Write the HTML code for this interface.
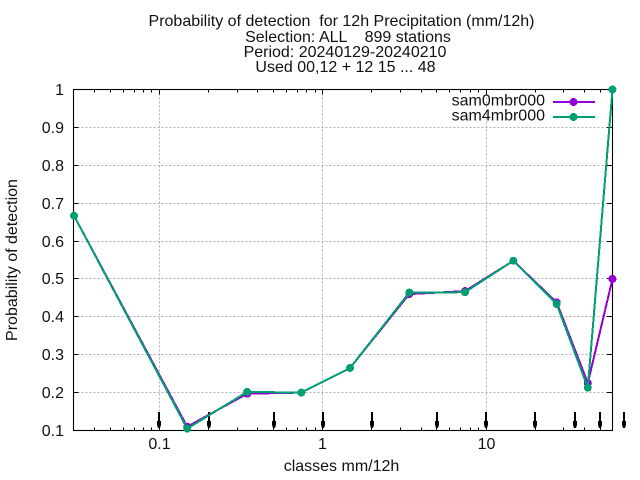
<!DOCTYPE html>
<html>
<head>
<meta charset="utf-8">
<title>Probability of detection</title>
<style>
html,body{margin:0;padding:0;background:#fff;width:640px;height:480px;overflow:hidden}
svg{display:block}
text{font-family:"Liberation Sans",sans-serif;font-size:16px;fill:#111;white-space:pre}
</style>
</head>
<body>
<svg id="chart" xmlns="http://www.w3.org/2000/svg" width="640" height="480" viewBox="0 0 640 480">
<g id="title" text-anchor="middle">
<text x="341.5" y="26">Probability of detection  for 12h Precipitation (mm/12h)</text>
<text x="348" y="42">Selection: ALL    899 stations</text>
<text x="345" y="57">Period: 20240129-20240210</text>
<text x="345.5" y="72">Used 00,12 + 12 15 ... 48</text>
</g>
<g id="grid"></g>
<g id="ticks"></g>
<g id="labels"></g>
<g id="arrows"></g>
<rect x="73.5" y="89.5" width="539" height="341" fill="none" stroke="#000" stroke-width="1.1"/>
<g id="series"></g>
<text text-anchor="middle" transform="translate(17,260) rotate(-90)">Probability of detection</text>
<text text-anchor="middle" x="341.5" y="471">classes mm/12h</text>
<g id="legend"></g>
</svg>
<script>
var classes = [0.03, 0.148, 0.345, 0.74, 1.47, 3.39, 7.44, 14.7, 27.1, 42, 59.5];
var sam0mbr000 = [0.667, 0.11, 0.197, 0.2, 0.265, 0.46, 0.468, 0.548, 0.438, 0.225, 0.5];
var sam4mbr000 = [0.667, 0.105, 0.202, 0.2, 0.265, 0.464, 0.465, 0.548, 0.434, 0.213, 1.0];
var seriesNames = ["sam0mbr000", "sam4mbr000"];
var yTicks = [0.1, 0.2, 0.3, 0.4, 0.5, 0.6, 0.7, 0.8, 0.9, 1];
var xMajorTicks = [0.1, 1, 10];
var xMinorTicks = [0.04, 0.05, 0.06, 0.07, 0.08, 0.09, 0.2, 0.3, 0.4, 0.5, 0.6, 0.7, 0.8, 0.9, 2, 3, 4, 5, 6, 7, 8, 9, 20, 30, 40, 50];
var arrowClasses = [0.1, 0.2, 0.5, 1, 2, 5, 10, 20, 35, 50, 70];

var NS = "http://www.w3.org/2000/svg";
var colors = ["#9400d3", "#009e73"];
function xScale(v) { return 322.7 + 163.3 * Math.log10(v); }
function yScale(v) { return 430.5 - (v - 0.1) / 0.9 * 341; }
function mk(tag, attrs, parent) {
  var el = document.createElementNS(NS, tag);
  for (var k in attrs) { el.setAttribute(k, attrs[k]); }
  parent.appendChild(el);
  return el;
}
var gridG = document.getElementById("grid");
var ticksG = document.getElementById("ticks");
var labelsG = document.getElementById("labels");
var arrowsG = document.getElementById("arrows");
var seriesG = document.getElementById("series");
var legendG = document.getElementById("legend");
var gridColor = "#b0b0b0";
var gridDash = "2,2";

yTicks.forEach(function (t) {
  var y = Math.round(yScale(t) - 0.5) + 0.5;
  if (t > 0.1 && t < 1) {
    var g = mk("line", {x1: 73.5, x2: 612, y1: y, y2: y, stroke: gridColor, "stroke-width": 1, "stroke-dasharray": gridDash}, gridG);
    
    
  }
  var a = mk("line", {x1: 73.5, x2: 78.5, y1: y, y2: y, stroke: "#000"}, ticksG);
  
  
  var b = mk("line", {x1: 607, x2: 612, y1: y, y2: y, stroke: "#000"}, ticksG);
  
  
  var l = mk("text", {x: 64, y: y + 5.5, "text-anchor": "end"}, labelsG);
  
  
  l.textContent = String(t);
});

xMajorTicks.forEach(function (t) {
  var x = Math.round(xScale(t) - 0.5) + 0.5;
  var g = mk("line", {x1: x, x2: x, y1: 89.5, y2: 430.5, stroke: gridColor, "stroke-width": 1, "stroke-dasharray": gridDash}, gridG);
  
  
  var a = mk("line", {x1: x, x2: x, y1: 430.5, y2: 425.5, stroke: "#000"}, ticksG);
  
  
  var b = mk("line", {x1: x, x2: x, y1: 89.5, y2: 94.5, stroke: "#000"}, ticksG);
  
  
  var l = mk("text", {x: x, y: 449, "text-anchor": "middle"}, labelsG);
  
  
  l.textContent = String(t);
});

xMinorTicks.forEach(function (t) {
  var x = Math.round(xScale(t) - 0.5) + 0.5;
  var a = mk("line", {x1: x, x2: x, y1: 430.5, y2: 427.5, stroke: "#000"}, ticksG);
  
  
  var b = mk("line", {x1: x, x2: x, y1: 89.5, y2: 92.5, stroke: "#000"}, ticksG);
  
  
});

arrowClasses.forEach(function (t) {
  var x = Math.round(xScale(t));
  var s = mk("rect", {x: x - 1, y: 412, width: 2, height: 16, fill: "#000"}, arrowsG);
  
  
  var h = mk("polygon", {points: (x - 2) + ",421 " + (x + 2) + ",421 " + (x + 2) + ",425 " + (x + 1) + ",428 " + (x - 1) + ",428 " + (x - 2) + ",425", fill: "#000"}, arrowsG);
  
  
});

[sam0mbr000, sam4mbr000].forEach(function (vals, i) {
  var pts = vals.map(function (v, j) { return xScale(classes[j]).toFixed(1) + "," + yScale(v).toFixed(1); }).join(" ");
  var line = mk("polyline", {points: pts, fill: "none", stroke: colors[i], "stroke-width": 2, "stroke-linejoin": "round", "shape-rendering": "crispEdges"}, seriesG);
  
  
  vals.forEach(function (v, j) {
    var c = mk("circle", {cx: xScale(classes[j]), cy: yScale(v), r: 4, fill: colors[i], "shape-rendering": "crispEdges"}, seriesG);
    
    
  });
});

seriesNames.forEach(function (name, i) {
  var y = 102 + i * 15;
  var t = mk("text", {x: 545, y: y + 3.5, "text-anchor": "end"}, legendG);
  
  
  t.textContent = name;
  var l = mk("line", {x1: 553, x2: 595, y1: y, y2: y, stroke: colors[i], "stroke-width": 2, "shape-rendering": "crispEdges"}, legendG);
  
  
  var c = mk("circle", {cx: 573.5, cy: y, r: 4, fill: colors[i], "shape-rendering": "crispEdges"}, legendG);
  
  
});
</script>
</body>
</html>
